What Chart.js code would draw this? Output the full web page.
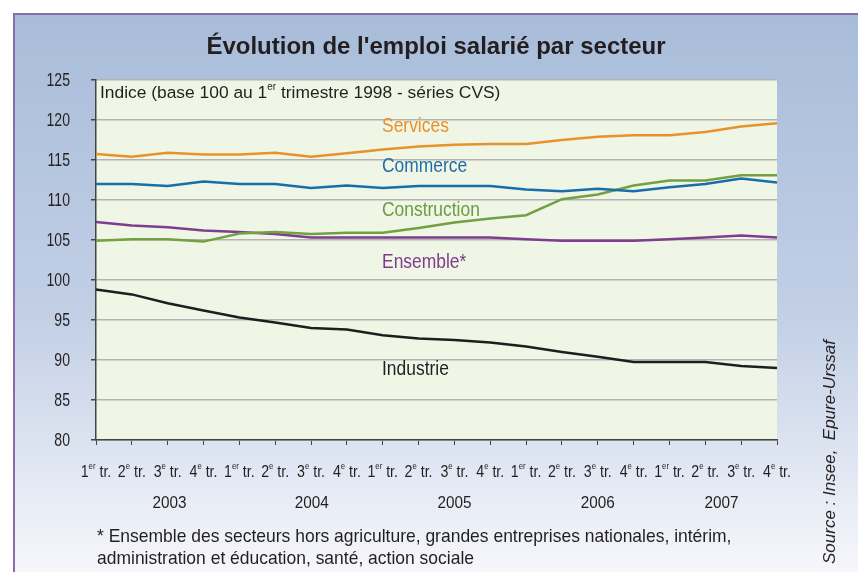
<!DOCTYPE html>
<html>
<head>
<meta charset="utf-8">
<script src="https://cdn.jsdelivr.net/npm/chart.js@4"></script>
<style>
  body { margin: 0; background: #fff; }
  .frame {
    position: absolute; left: 13px; top: 13px; width: 845px; height: 559px;
    border-left: 2px solid #8a6aa8; border-top: 2px solid #8a6aa8;
    background: linear-gradient(#a8bcd9, #c3d0e6 55%, #f6f7fb);
    box-sizing: border-box;
  }
  canvas { position: absolute; left: 0; top: 0; }
</style>
</head>
<body>
<div class="frame"></div>
<canvas id="chart" width="858" height="572"></canvas>
<script>
const quarters = ["1er tr.", "2e tr.", "3e tr.", "4e tr."];
const years = ["2003", "2004", "2005", "2006", "2007"];
const services = [115.75, 115.4, 115.9, 115.7, 115.7, 115.9, 115.4, 115.85, 116.3, 116.7, 116.9, 117.0, 117.0, 117.5, 117.9, 118.1, 118.1, 118.5, 119.2, 119.6];
const commerce = [112.0, 112.0, 111.75, 112.3, 112.0, 112.0, 111.5, 111.8, 111.5, 111.75, 111.75, 111.75, 111.3, 111.1, 111.4, 111.1, 111.6, 112.0, 112.7, 112.2];
const construction = [104.9, 105.1, 105.1, 104.8, 105.8, 106.0, 105.75, 105.9, 105.9, 106.5, 107.2, 107.7, 108.1, 110.1, 110.7, 111.8, 112.45, 112.45, 113.1, 113.1];
const ensemble = [107.25, 106.8, 106.6, 106.2, 106.0, 105.75, 105.3, 105.3, 105.3, 105.3, 105.3, 105.3, 105.1, 104.9, 104.9, 104.9, 105.1, 105.3, 105.55, 105.3];
const industrie = [98.8, 98.2, 97.1, 96.2, 95.3, 94.7, 94.0, 93.8, 93.1, 92.7, 92.5, 92.2, 91.7, 91.0, 90.4, 89.75, 89.75, 89.75, 89.25, 89.0];

const labels = [];
years.forEach(() => quarters.forEach((q) => labels.push(q)));

const sans = "'Liberation Sans', Arial, sans-serif";
const dark = "#231f20";

// text squeezed horizontally (no narrow font installed)
function cText(c, text, x, y, size, sx, align, style) {
  c.save();
  c.translate(x, y);
  c.scale(sx, 1);
  c.textAlign = align;
  c.font = `${style || ""} ${size}px ${sans}`;
  c.fillText(text, 0, 0);
  c.restore();
}

// number + superscript suffix + rest, left aligned from x
function supText(c, x, y, size, sx, parts) {
  const sup = Math.round(size * 0.55);
  c.save();
  c.translate(x, y);
  c.scale(sx, 1);
  c.textAlign = "left";
  let p = 0;
  c.font = `${size}px ${sans}`;
  c.fillText(parts[0], p, 0);
  p += c.measureText(parts[0]).width;
  c.font = `${sup}px ${sans}`;
  c.fillText(parts[1], p, -size * 0.35);
  p += c.measureText(parts[1]).width;
  c.font = `${size}px ${sans}`;
  c.fillText(parts[2], p, 0);
  p += c.measureText(parts[2]).width;
  c.restore();
  return p * sx;
}

function supWidth(c, size, sx, parts) {
  c.font = `${size}px ${sans}`;
  let w = c.measureText(parts[0] + parts[2]).width;
  c.font = `${Math.round(size * 0.55)}px ${sans}`;
  w += c.measureText(parts[1]).width;
  return w * sx;
}

const plotBg = {
  id: "plotBg",
  beforeDraw(chart) {
    const { ctx: c, chartArea: a } = chart;
    c.save();
    c.fillStyle = "#eff6e5";
    c.fillRect(a.left, a.top, a.right - a.left, a.bottom - a.top);
    c.restore();
  },
};

const texts = {
  id: "texts",
  afterDraw(chart) {
    const c = chart.ctx;
    const xs = chart.scales.x;
    const ys = chart.scales.y;
    c.save();
    c.fillStyle = dark;
    c.textBaseline = "middle";

    // title
    c.textAlign = "center";
    c.font = `bold 24px ${sans}`;
    c.fillText("Évolution de l'emploi salarié par secteur", 436, 47);

    // subtitle inside the plot
    supText(c, 100, 93, 17.4, 1, ["Indice (base 100 au 1", "er", " trimestre 1998 - séries CVS)"]);

    // y tick labels
    ys.ticks.forEach((t) => cText(c, String(t.value), 70, ys.getPixelForValue(t.value) + 1, 18.5, 0.76, "right"));

    // quarter labels with superscripts
    labels.forEach((lab, i) => {
      const m = lab.match(/^(\d)(er|e) (.*)$/);
      const parts = [m[1], m[2], " " + m[3]];
      const w = supWidth(c, 16.5, 0.86, parts);
      supText(c, xs.getPixelForValue(i) - w / 2, 472, 16.5, 0.86, parts);
    });

    // years
    const yearAt = [2.05, 6.02, 10, 14, 17.45];
    years.forEach((yr, k) => cText(c, yr, xs.getPixelForValue(yearAt[k]), 503, 17, 0.9, "center"));

    // series names
    const names = [
      ["Services", 119.25, "#e8902a"],
      ["Commerce", 114.25, "#1f6da8"],
      ["Construction", 108.75, "#6e9a43"],
      ["Ensemble*", 102.25, "#7d3c8c"],
      ["Industrie", 88.9, dark],
    ];
    names.forEach(([t, v, col]) => {
      c.fillStyle = col;
      cText(c, t, xs.getPixelForValue(7.98), ys.getPixelForValue(v), 21, 0.83, "left");
    });

    // footnote
    c.fillStyle = dark;
    cText(c, "* Ensemble des secteurs hors agriculture, grandes entreprises nationales, intérim,", 97, 537, 19, 0.92, "left");
    cText(c, "administration et éducation, santé, action sociale", 97, 559, 19, 0.92, "left");

    // source, vertical
    c.translate(830, 452);
    c.rotate(-Math.PI / 2);
    cText(c, "Source : Insee,  Epure-Urssaf", 0, 0, 17, 1, "center", "italic");
    c.restore();
  },
};

function line(data, color) {
  return { data, borderColor: color, borderWidth: 2.5, pointRadius: 0, tension: 0, fill: false };
}

new Chart(document.getElementById("chart"), {
  type: "line",
  data: {
    labels: labels,
    datasets: [
      line(services, "#e8922c"),
      line(commerce, "#1a6dab"),
      line(construction, "#72a042"),
      line(ensemble, "#7e3d8e"),
      line(industrie, "#1e1e1e"),
    ],
  },
  options: {
    responsive: false,
    devicePixelRatio: 1,
    animation: false,
    layout: { padding: { top: 80, right: 81, left: 0, bottom: 0 } },
    plugins: { legend: { display: false }, tooltip: { enabled: false } },
    scales: {
      x: {
        offset: false,
        afterFit: (s) => { s.height = 132; },
        ticks: { display: false },
        grid: { drawOnChartArea: false, drawTicks: true, tickLength: 5, tickColor: "#444" },
        border: { color: "#444", width: 1.5 },
      },
      y: {
        min: 80,
        max: 125,
        afterFit: (s) => { s.width = 96; },
        ticks: { stepSize: 5, display: false },
        grid: { color: "#b3b3b3", lineWidth: 1.5, tickLength: 5, tickColor: "#444" },
        border: { color: "#444", width: 1.5 },
      },
    },
  },
  plugins: [plotBg, texts],
});
</script>
</body>
</html>
